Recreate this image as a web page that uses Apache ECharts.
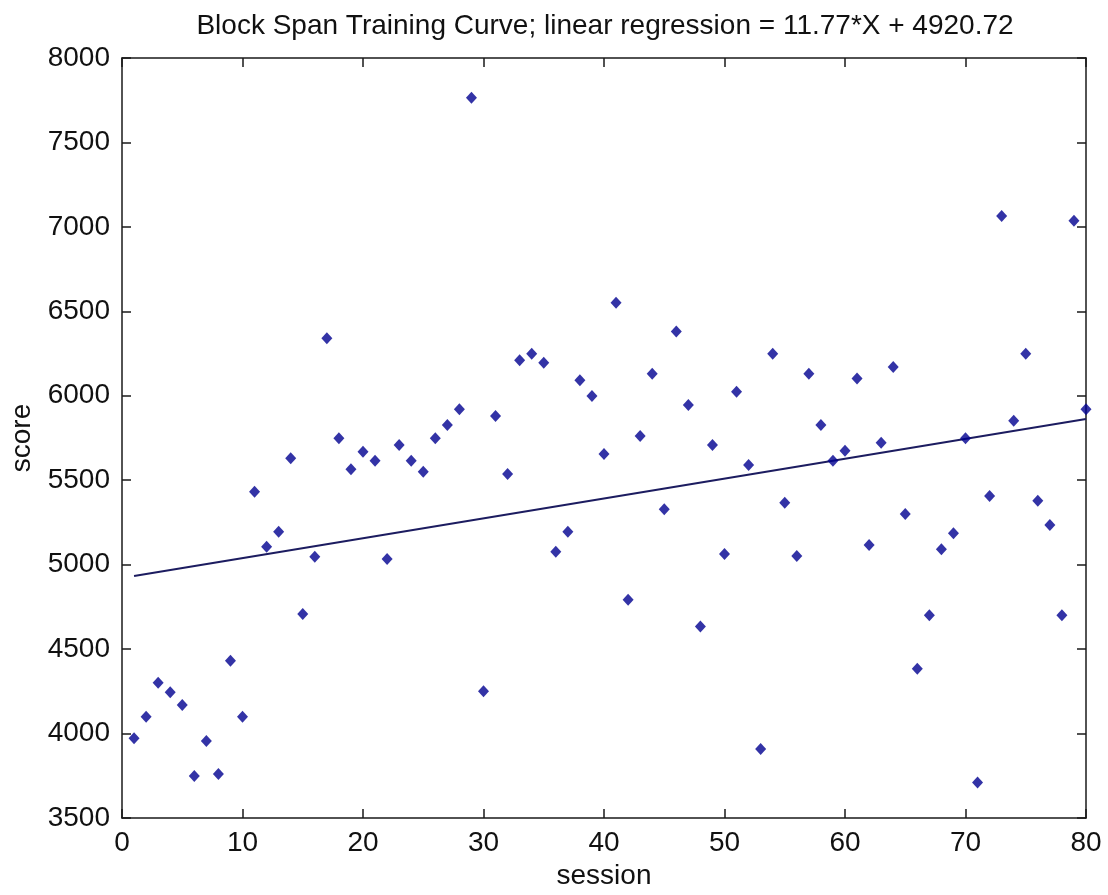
<!DOCTYPE html>
<html>
<head>
<meta charset="utf-8">
<script src="https://cdn.jsdelivr.net/npm/echarts@6/dist/echarts.min.js"></script>
<style>
html,body{margin:0;padding:0;background:#ffffff;}
#chart{width:1108px;height:895px;}
</style>
</head>
<body>
<div id="chart"></div>
<script>
// ---- data ----
const sessions = [
  1,2,3,4,5,6,7,8,9,10,
  11,12,13,14,15,16,17,18,19,20,
  21,22,23,24,25,26,27,28,29,30,
  31,32,33,34,35,36,37,38,39,40,
  41,42,43,44,45,46,47,48,49,50,
  51,52,53,54,55,56,57,58,59,60,
  61,62,63,64,65,66,67,68,69,70,
  71,72,73,74,75,76,77,78,79,80
];
const scores = [
  3972,4100,4301,4244,4169,3749,3956,3761,4431,4100,
  5432,5106,5195,5630,4708,5047,6340,5748,5565,5669,
  5616,5034,5709,5616,5550,5748,5827,5920,7764,4251,
  5880,5537,6210,6249,6196,5077,5195,6092,5999,5655,
  6551,4793,5762,6131,5328,6380,5945,4634,5709,5063,
  6024,5590,3908,6249,5367,5051,6131,5827,5616,5675,
  6103,5116,5722,6170,5300,4383,4700,5091,5186,5748,
  3710,5407,7064,5852,6249,5379,5235,4700,7037,5920
];
// regression coefficients shown in the title
const regSlope = 11.77;
const regIntercept = 4920.72;
// axis ranges / ticks
const xMin = 0, xMax = 80, xStep = 10;
const yMin = 3500, yMax = 8000, yStep = 500;
const titleText = 'Block Span Training Curve; linear regression = ' + regSlope + '*X + ' + regIntercept;
const xName = 'session';
const yName = 'score';

// ---- chart ----
const FONT = "'Liberation Sans', Arial, sans-serif";
const pts = sessions.map((s, i) => [s, scores[i]]);
const lineX = [sessions[0], sessions[sessions.length - 1]];
const linePts = lineX.map(x => [x, regSlope * x + regIntercept]);

const axisLineStyle = {show: true, onZero: false, lineStyle: {color: '#1a1a1a', width: 1.5}};
const tickStyle = {show: true, inside: true, length: 9, lineStyle: {color: '#1a1a1a', width: 1.5}};
const labelStyle = {color: '#111', fontFamily: FONT, fontSize: 28, formatter: v => String(v)};

const chart = echarts.init(document.getElementById('chart'), null, {renderer: 'canvas'});
chart.setOption({
  animation: false,
  backgroundColor: '#ffffff',
  title: {
    text: titleText,
    left: 600,
    top: 7,
    textAlign: 'center',
    textStyle: {color: '#111', fontFamily: FONT, fontSize: 28, fontWeight: 'normal'}
  },
  grid: {left: 122, right: 22, top: 58, bottom: 77, containLabel: false},
  xAxis: [
    {
      type: 'value', min: xMin, max: xMax, interval: xStep, position: 'bottom',
      name: xName, nameLocation: 'middle', nameGap: 44,
      nameTextStyle: {color: '#111', fontFamily: FONT, fontSize: 28},
      axisLine: axisLineStyle, axisTick: tickStyle,
      axisLabel: Object.assign({margin: 11}, labelStyle),
      splitLine: {show: false}
    },
    {
      type: 'value', min: xMin, max: xMax, interval: xStep, position: 'top',
      axisLine: axisLineStyle, axisTick: tickStyle,
      axisLabel: {show: false}, splitLine: {show: false}
    }
  ],
  yAxis: [
    {
      type: 'value', min: yMin, max: yMax, interval: yStep, position: 'left',
      name: yName, nameLocation: 'middle', nameGap: 86, nameRotate: 90,
      nameTextStyle: {color: '#111', fontFamily: FONT, fontSize: 28},
      axisLine: axisLineStyle, axisTick: tickStyle,
      axisLabel: Object.assign({margin: 12}, labelStyle),
      splitLine: {show: false}
    },
    {
      type: 'value', min: yMin, max: yMax, interval: yStep, position: 'right',
      axisLine: axisLineStyle, axisTick: tickStyle,
      axisLabel: {show: false}, splitLine: {show: false}
    }
  ],
  series: [
    {
      type: 'line',
      data: linePts,
      xAxisIndex: 0, yAxisIndex: 0,
      showSymbol: false,
      symbol: 'none',
      lineStyle: {color: '#1c1c60', width: 2},
      z: 2
    },
    {
      type: 'scatter',
      data: pts,
      xAxisIndex: 0, yAxisIndex: 0,
      symbol: 'diamond',
      symbolSize: [11, 12],
      itemStyle: {color: '#000090'},
      z: 3
    }
  ]
});
</script>
</body>
</html>
